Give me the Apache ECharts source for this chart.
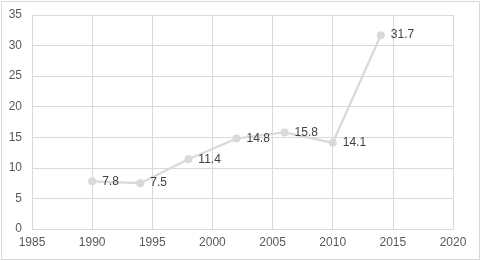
<!DOCTYPE html>
<html><head><meta charset="utf-8">
<script src="https://cdn.jsdelivr.net/npm/echarts@6/dist/echarts.min.js"></script>
<style>html,body{margin:0;padding:0;background:#fff}#c{width:481px;height:261px}</style>
</head><body><div id="c"></div>
<script>
const years = [1990, 1994, 1998, 2002, 2006, 2010, 2014];
const values = [7.8, 7.5, 11.4, 14.8, 15.8, 14.1, 31.7];
const xTicks = [1985, 1990, 1995, 2000, 2005, 2010, 2015, 2020];
const yTicks = [0, 5, 10, 15, 20, 25, 30, 35];

const chart = echarts.init(document.getElementById('c'), null, {renderer: 'canvas'});
const font = "'Liberation Sans', Arial, sans-serif";
chart.setOption({
  animation: false,
  backgroundColor: '#fff',
  graphic: [{type: 'rect', shape: {x: 1.5, y: 1.5, width: 478, height: 258}, style: {fill: 'none', stroke: '#d9d9d9', lineWidth: 1}}],
  grid: {left: 32, right: 28, top: 15, bottom: 32},
  xAxis: {
    type: 'value', min: xTicks[0], max: xTicks[xTicks.length-1], interval: 5,
    axisLine: {show: true, lineStyle: {color: '#d9d9d9'}},
    axisTick: {show: false},
    splitLine: {show: true, lineStyle: {color: '#d9d9d9'}},
    axisLabel: {color: '#595959', fontSize: 12, fontFamily: font, margin: 8, formatter: v => String(v)}
  },
  yAxis: {
    type: 'value', min: yTicks[0], max: yTicks[yTicks.length-1], interval: 5,
    axisLine: {show: false}, axisTick: {show: false},
    splitLine: {show: true, lineStyle: {color: '#d9d9d9'}},
    axisLabel: {color: '#595959', fontSize: 12, fontFamily: font, margin: 10}
  },
  series: [{
    type: 'line',
    data: years.map((y, i) => [y, values[i]]),
    symbol: 'circle', symbolSize: 8,
    lineStyle: {color: '#d9d9d9', width: 2.25},
    itemStyle: {color: '#d9d9d9'},
    label: {show: true, position: 'right', distance: 6, color: '#404040', fontSize: 12, fontFamily: font, formatter: p => p.value[1].toFixed(1)}
  }]
});
</script></body></html>
